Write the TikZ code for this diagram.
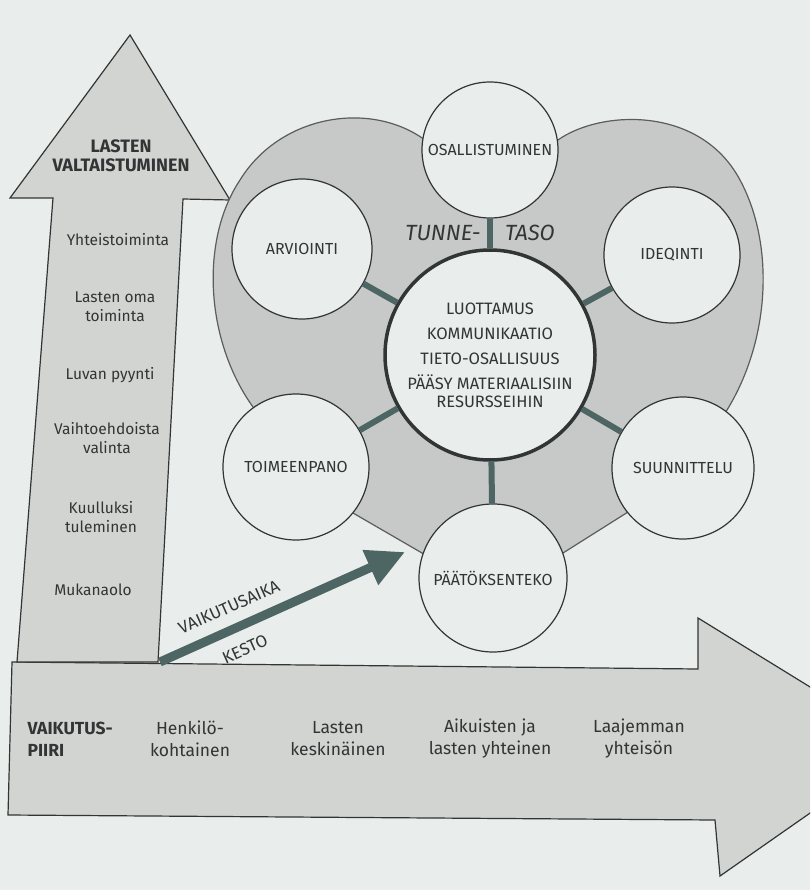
\documentclass[tikz,border=0pt]{standalone}
\usepackage{fontspec}
\setmainfont{Fira Sans}
\usetikzlibrary{arrows.meta}

\definecolor{paper}{RGB}{233,237,235}
\definecolor{shade}{RGB}{210,212,210}
\definecolor{heartgray}{RGB}{198,201,199}
\definecolor{ink}{RGB}{50,53,53}
\definecolor{spokecol}{RGB}{78,102,99}

\begin{document}
\begin{tikzpicture}[x=1pt,y=-1pt,
    bubble/.style={circle,draw=ink,line width=1.2pt,fill=paper,inner sep=0pt,
      text=ink,font=\fontsize{16}{19}\selectfont},
    spoke/.style={draw=spokecol,line width=6pt},
    lbl/.style={text=ink,align=center,font=\fontsize{15.5}{19}\selectfont},
    axislbl/.style={lbl,font=\fontsize{17.5}{22}\selectfont}]
            \useasboundingbox (0,0) rectangle (810,890);
            \fill[paper] (0,0) rectangle (810,890);
            \clip (0,0) rectangle (810,890);
            % arrows
            \draw[ink,line width=1.2pt,fill=shade] (12,662) -- (698,669) -- (698,618) -- (906,746)
                -- (720,876) -- (715,820) -- (8,815) -- cycle;
            \draw[ink,line width=1.2pt,fill=shade] (17,662) -- (53,198) -- (10,198) -- (130,35)
                -- (230,200) -- (183,199) -- (158,662) -- cycle;
            % heart
            \draw[ink!80,line width=1.2pt,fill=heartgray]
                (253,407) .. controls (205,340) and (200,240) .. (240,180)
                .. controls (280,115) and (370,100) .. (425,140) -- (490,150) -- (558,140)
                .. controls (600,110) and (700,105) .. (740,180)
                .. controls (775,245) and (770,340) .. (727,410)
                -- (683,468) -- (628,512) -- (563,553) -- (493,578) -- (422,553)
                -- (353,513) -- (296,467) -- cycle;
            % circles
            \node[bubble,minimum size=210pt,line width=3.5pt,font=\fontsize{16.5}{25}\selectfont,align=center]
                (core) at (490,355) {LUOTTAMUS\\KOMMUNIKAATIO\\TIETO-OSALLISUUS\\PÄÄSY MATERIAALISIIN\\[-7pt]RESURSSEIHIN};
            \node[bubble,minimum size=136pt] (osall) at (490,150) {OSALLISTUMINEN};
            \node[bubble,minimum size=140pt] (arvio) at (302,249) {ARVIOINTI};
            \node[bubble,minimum size=136pt] (idea) at (672,255) {IDEQINTI};
            \node[bubble,minimum size=146pt] (toimi) at (296,467) {TOIMEENPANO};
            \node[bubble,minimum size=142pt] (suunn) at (683,468) {SUUNNITTELU};
            \node[bubble,minimum size=148pt] (paatos) at (493,578) {PÄÄTÖKSENTEKO};
            \foreach \n in {osall,arvio,idea,toimi,suunn,paatos}
                \draw[spoke] (core) -- (\n);
            \node[lbl,font=\fontsize{22}{26}\itshape] (tunne) at (443,233) {TUNNE-};
            \node[lbl,font=\fontsize{22}{26}\itshape] (taso) at (530,233) {TASO};
            % time arrow
            \coordinate (origo) at (160,662);
            \coordinate (aim) at (405,552);
            \draw[spoke,line width=9pt,-{Triangle[length=38pt,width=36pt]}] (origo) -- (aim);
            \node[lbl,rotate=24,font=\fontsize{17}{19}\selectfont] (aika) at (229,607) {VAIKUTUSAIKA};
            \node[lbl,rotate=24,font=\fontsize{17}{19}\selectfont] (kesto) at (245,649) {KESTO};
            % up arrow texts
            \node[lbl,font=\fontsize{18}{19}\bfseries] (valta) at (121,156) {LASTEN\\VALTAISTUMINEN};
            \node[lbl] (yht) at (118,240) {Yhteistoiminta};
            \node[lbl] (oma) at (115,307) {Lasten oma\\toiminta};
            \node[lbl] (lupa) at (110,375) {Luvan pyynti};
            \node[lbl] (valinta) at (107,438) {Vaihtoehdoista\\valinta};
            \node[lbl] (kuulu) at (101,517) {Kuulluksi\\tuleminen};
            \node[lbl] (mukana) at (93,590) {Mukanaolo};
            % bottom texts
            \node[axislbl,anchor=west,align=left,font=\fontsize{17.5}{22}\bfseries] (piiri) at (24,739) {VAIKUTUS-\\PIIRI};
            \node[axislbl] (oma2) at (190,739) {Henkilö-\\kohtainen};
            \node[axislbl] (kesken) at (338,739) {Lasten\\keskinäinen};
            \node[axislbl] (yhteinen) at (490,739) {Aikuisten ja\\lasten yhteinen};
            \node[axislbl] (laaja) at (639,739) {Laajemman\\yhteisön};
        \end{tikzpicture}
\end{document}
